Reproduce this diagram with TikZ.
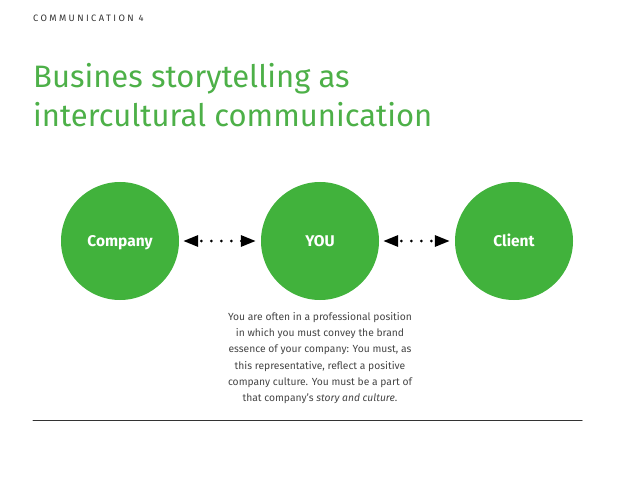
\documentclass[tikz,border=0pt]{standalone}
\usepackage{fontspec}
\setmainfont{Fira Sans}
\usetikzlibrary{arrows.meta, calc}
\definecolor{brandGreen}{HTML}{41B23C}
\definecolor{titleGreen}{HTML}{4DB048}
\definecolor{bodyGray}{HTML}{454545}
\definecolor{headGray}{HTML}{333333}

\begin{document}
\begin{tikzpicture}[x=1bp, y=-1bp, line cap=round, line join=round]

\def\circR{59}
\def\rowY{241}

\tikzset{
  party/.style={circle, fill=brandGreen, minimum size=2*\circR bp, inner sep=0pt,
                text height=12bp, text depth=1bp,
                text=white, font=\fontsize{15.5bp}{17bp}\selectfont\bfseries},
  link/.style={black, line width=3bp, dash pattern=on 0pt off 10bp, dash phase=6bp,
               shorten <=4bp, shorten >=5bp,
               {Triangle[length=15bp, width=11bp]}-{Triangle[length=15bp, width=11bp]}},
}

\useasboundingbox (0,0) rectangle (638,479);

% header
\node[anchor=base west, inner sep=0pt, text=headGray,
      font=\fontsize{9.3bp}{10bp}\selectfont\addfontfeatures{LetterSpace=26}]
      (head) at (33,22) {COMMUNICATION 4};

% title
\node[anchor=base west, inner sep=0pt, align=left, text=titleGreen,
      font=\fontsize{31bp}{39bp}\selectfont]
      (title) at (33,127) {Busines storytelling as\\intercultural communication};

% circles
\node[party] (company) at (120,\rowY) {Company};
\node[party] (you)     at (320,\rowY) {YOU};
\node[party] (client)  at (514,\rowY) {Client};

\draw[link] (company) -- (you);
\draw[link] (you) -- (client);

% text under YOU
\node[anchor=north, inner sep=0pt, align=center, text=bodyGray,
      font=\fontsize{10.3bp}{16.3bp}\selectfont]
      (note) at (320,312) {You are often in a professional position\\
      in which you must convey the brand\\
      essence of your company: You must, as\\
      this representative, reflect a positive\\
      company culture. You must be a part of\\
      that company's \textit{story and culture}.};

% rule
\coordinate (ruleL) at (33,420);
\coordinate (ruleR) at (582,420);
\draw[headGray, line width=1bp] (ruleL) -- (ruleR);

\end{tikzpicture}
\end{document}
